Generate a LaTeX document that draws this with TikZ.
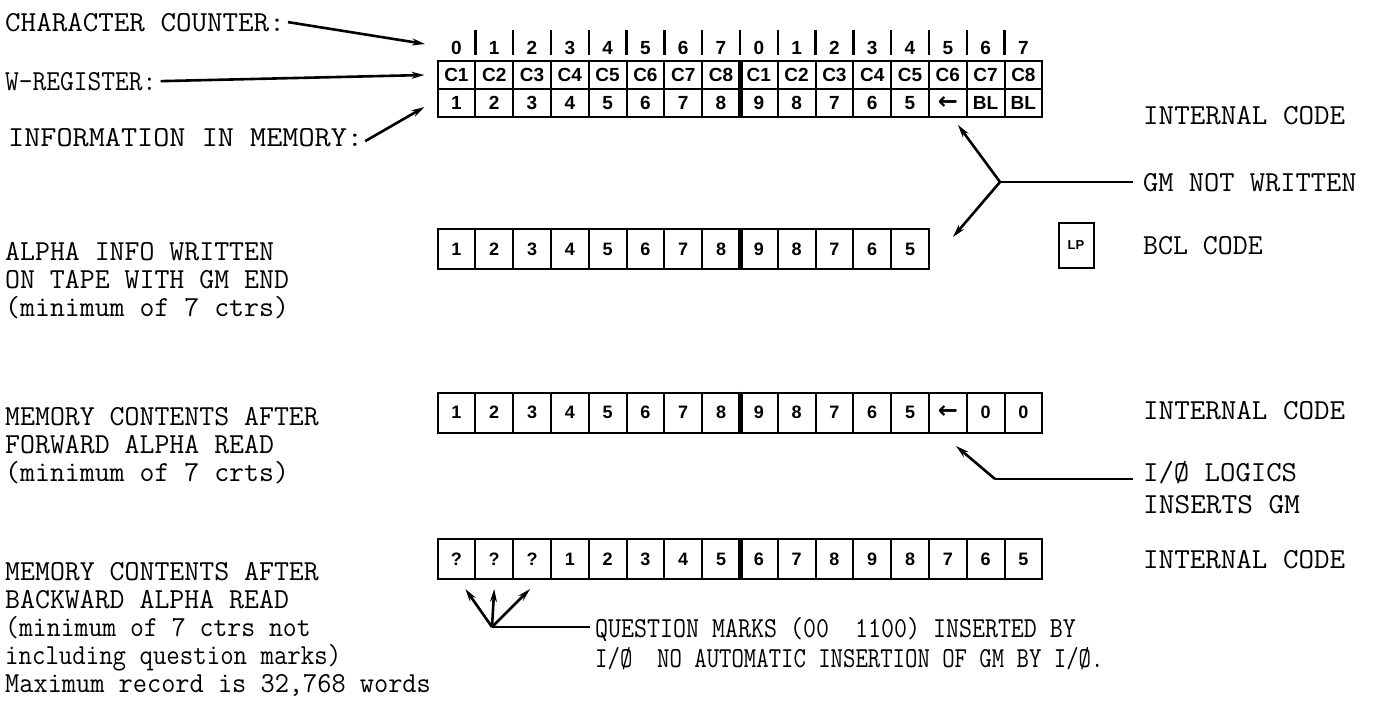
\documentclass[tikz,border=0pt]{standalone}
\usepackage{fontspec}
\usepackage{graphicx}
\newfontfamily\boxfont{Liberation Sans}
\newfontfamily\symfont{DejaVu Sans}
\usetikzlibrary{arrows.meta}
\newcommand{\sx}[2]{\scalebox{#1}[1]{#2}}
\newcommand{\garrow}{{\fontsize{24}{24}\selectfont\symfont\bfseries ←}}
\tikzset{
  lbl/.style={anchor=base west, inner sep=0pt, font=\fontsize{29}{34}\selectfont\ttfamily},
  cell/.style={draw, line width=2pt, minimum width=37.8pt, minimum height=40pt, inner sep=0pt,
    font=\fontsize{18}{22}\selectfont\boxfont\bfseries},
  regcell/.style={cell, minimum height=28pt, font=\fontsize{19}{22}\selectfont\boxfont\bfseries},
  cnt/.style={inner sep=0pt, font=\fontsize{19}{22}\selectfont\boxfont\bfseries},
  tick/.style={line width=2.4pt},
  sep/.style={line width=5pt},
  arr/.style={line width=2.6pt, -{Stealth[length=13pt,width=7pt]}},
  ln/.style={line width=2.6pt},
}
\begin{document}
\begin{tikzpicture}[x=1pt,y=-1pt]
\useasboundingbox (0,0) rectangle (1373,707);
% ---------- left labels ----------
\node[lbl] (lcc) at (5,31) {\sx{1.04}{CHARACTER COUNTER:}};
\node[lbl] (lwr) at (5,90) {\sx{0.92}{W-REGISTER:}};
\node[lbl] (lim) at (8,146) {\sx{1.08}{INFORMATION IN MEMORY:}};
\node[lbl] (la1) at (5,260) {ALPHA INFO WRITTEN};
\node[lbl] (la2) at (5,288) {ON TAPE WITH GM END};
\node[lbl] (la3) at (5,316) {(minimum of 7 ctrs)};
\node[lbl] (lf1) at (5,425) {MEMORY CONTENTS AFTER};
\node[lbl] (lf2) at (5,453) {FORWARD ALPHA READ};
\node[lbl] (lf3) at (5,481) {(minimum of 7 crts)};
\node[lbl] (lb1) at (5,580) {MEMORY CONTENTS AFTER};
\node[lbl] (lb2) at (5,608) {BACKWARD ALPHA READ};
\node[lbl] (lb3) at (5,636) {\sx{0.93}{(minimum of 7 ctrs not}};
\node[lbl] (lb4) at (5,664) {\sx{0.9}{including question marks)}};
\node[lbl] (lb5) at (5,692) {\sx{0.95}{Maximum record is 32,768 words}};
% ---------- right labels ----------
\node[lbl] (ri1) at (1143,124) {\sx{1.04}{INTERNAL CODE}};
\node[lbl] (rgm) at (1143,191) {\sx{1.02}{GM NOT WRITTEN}};
\node[lbl] (rbc) at (1143,254) {BCL CODE};
\node[lbl] (ri3) at (1143,419) {\sx{1.04}{INTERNAL CODE}};
\node[lbl] (rio1) at (1143,481) {\sx{1.03}{I/Ø LOGICS}};
\node[lbl] (rio2) at (1143,513) {\sx{1.05}{INSERTS GM}};
\node[lbl] (ri4) at (1143,568) {\sx{1.04}{INTERNAL CODE}};
\node[lbl] (rq1) at (595,637) {\sx{0.87}{QUESTION MARKS (00\ \ 1100) INSERTED BY}};
\node[lbl] (rq2) at (595,667) {\sx{0.83}{I/Ø\ \ NO AUTOMATIC INSERTION OF GM BY I/Ø.}};
% ---------- register ----------
\foreach \t [count=\i] in {0,1,2,3,4,5,6,7,0,1,2,3,4,5,6,7}
  \node[cnt] (cc\i) at ({437.5+(\i-0.5)*37.8},48) {\t};
\foreach \i in {1,...,15}
  \draw[tick] ({437.5+\i*37.8},30) -- ({437.5+\i*37.8},55);
\foreach \t [count=\i] in {C1,C2,C3,C4,C5,C6,C7,C8,C1,C2,C3,C4,C5,C6,C7,C8}
  \node[regcell] (w\i) at ({437.5+(\i-0.5)*37.8},75) {\t};
\foreach \t [count=\i] in {1,2,3,4,5,6,7,8,9,8,7,6,5,\garrow,BL,BL}
  \node[regcell] (m\i) at ({437.5+(\i-0.5)*37.8},103) {\t};
\draw[sep] (w8.north east) -- (m8.south east);
% ---------- row 2 ----------
\foreach \t [count=\i] in {1,2,3,4,5,6,7,8,9,8,7,6,5}
  \node[cell] (a\i) at ({437.5+(\i-0.5)*37.8},249) {\t};
\draw[sep] (a8.north east) -- (a8.south east);
\node[draw, line width=2pt, minimum width=35pt, minimum height=45pt, inner sep=0pt,
  font=\fontsize{13}{14}\selectfont\boxfont\bfseries] (lp) at (1076,245) {LP};
% ---------- row 3 ----------
\foreach \t [count=\i] in {1,2,3,4,5,6,7,8,9,8,7,6,5,\garrow,0,0}
  \node[cell] (f\i) at ({437.5+(\i-0.5)*37.8},412.5) {\t};
\draw[sep] (f8.north east) -- (f8.south east);
% ---------- row 4 ----------
\foreach \t [count=\i] in {?,?,?,1,2,3,4,5,6,7,8,9,8,7,6,5}
  \node[cell] (b\i) at ({437.5+(\i-0.5)*37.8},559) {\t};
\draw[sep] (b8.north east) -- (b8.south east);
% ---------- connectors ----------
\coordinate (cct) at (425,44);
\draw[arr] ([xshift=3pt]lcc.east) -- (cct);
\draw[arr] ([xshift=4pt]lwr.east) -- ([xshift=-12pt]w1.west);
\draw[arr] ([xshift=2pt,yshift=-4pt]lim.east) -- ([xshift=-12pt,yshift=-4pt]m1.west);
% GM not written
\coordinate (gj) at (1000,182);
\coordinate (gt1) at (958,125);
\coordinate (gt2) at (953,237);
\draw[ln] (gj) -- ([xshift=-10pt]rgm.west |- gj);
\draw[arr] (gj) -- (gt1);
\draw[arr] (gj) -- (gt2);
% I/O logics
\coordinate (ij) at (995,479);
\coordinate (it) at (956,446);
\draw[ln] ([xshift=-10pt]rio1.west |- ij) -- (ij);
\draw[arr] (ij) -- (it);
% question marks
\coordinate (qj) at (492,627);
\draw[ln] (qj) -- ([xshift=-5pt]rq1.west |- qj);
\draw[arr] (qj) -- ([xshift=9pt,yshift=-9pt]b1.south);
\draw[arr] (qj) -- ([yshift=-9pt]b2.south);
\draw[arr] (qj) -- ([xshift=-2pt,yshift=-9pt]b3.south);
\end{tikzpicture}
\end{document}
